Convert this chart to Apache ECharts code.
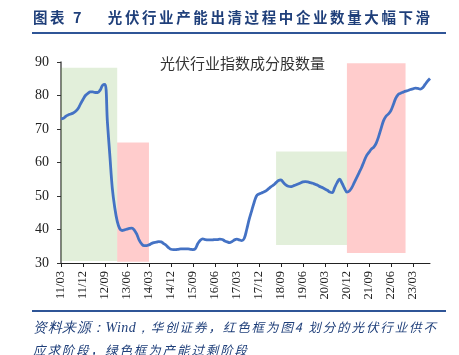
<!DOCTYPE html>
<html>
<head>
<meta charset="utf-8">
<script src="https://cdn.jsdelivr.net/npm/echarts@6/dist/echarts.min.js"></script>
<style>
html,body{margin:0;padding:0;background:#fff;}
#wrap{position:relative;width:459px;height:355px;overflow:hidden;}
#chart{position:absolute;left:0;top:0;width:459px;height:355px;}
.hdr{position:absolute;left:33px;top:6px;font-family:"Noto Sans CJK SC";font-weight:bold;font-size:14.5px;color:#1F3F7A;letter-spacing:2.6px;white-space:nowrap;}
.hline{position:absolute;left:32px;width:414px;height:2px;background:#2F5597;}
.ftr{position:absolute;left:33px;font-family:"Noto Sans CJK SC";font-style:italic;font-size:12.5px;color:#1F3F7A;letter-spacing:1.9px;white-space:nowrap;}
</style>
</head>
<body>
<div id="wrap">
<div id="chart"></div>
<div class="hdr">图表 7&nbsp;&nbsp;&nbsp;&nbsp;光伏行业产能出清过程中企业数量大幅下滑</div>
<div class="hline" style="top:32px"></div>
<div class="hline" style="top:310px"></div>
<div class="ftr" style="top:317px"><span style="font-family:'Liberation Serif';font-size:14px;letter-spacing:0.5px">资料来源：Wind，</span>华创证券，红色框为图4 划分的光伏行业供不</div>
<div class="ftr" style="top:340px">应求阶段，绿色框为产能过剩阶段</div>
</div>
<script>
// monthly categories 2011/03 .. 2023/10
const categories = [];
for (let y = 2011; y <= 2023; y++) {
  for (let m = 1; m <= 12; m++) {
    if (y === 2011 && m < 3) continue;
    if (y === 2023 && m > 10) continue;
    categories.push(String(y % 100).padStart(2, '0') + '/' + String(m).padStart(2, '0'));
  }
}
const stockCount = [
  73.0, 73.2, 73.8, 74.2, 74.5, 74.8, 75.3, 76.1, 77.5, 78.8,
  80.0, 80.6, 81.1, 81.1, 80.9, 80.9, 81.6, 83.0, 83.3, 72.0, 62.0, 52.3,
  46.5, 42.5, 40.3, 39.7, 39.9, 40.1, 40.3, 40.4, 39.8, 38.6, 36.8, 35.7,
  35.2, 35.2, 35.4, 35.8, 36.1, 36.2, 36.4, 36.3, 35.8, 35.3, 34.6, 34.1,
  34.0, 34.0, 34.1, 34.2, 34.2, 34.2, 34.2, 34.1, 34.0, 34.3, 35.8, 36.8,
  37.2, 37.0, 36.9, 36.9, 36.9, 37.0, 37.0, 37.1, 37.0, 36.6, 36.3, 36.1,
  36.4, 36.9, 37.1, 36.9, 36.7, 37.4, 40.0, 43.0, 45.5, 48.0, 50.0, 50.6,
  50.9, 51.2, 51.6, 52.2, 52.8, 53.3, 54.0, 54.6, 54.8, 54.0, 53.3, 52.9,
  52.8, 53.0, 53.3, 53.6, 53.9, 54.2, 54.3, 54.2, 54.0, 53.8, 53.5, 53.2,
  52.8, 52.5, 52.1, 51.7, 51.2, 51.0, 52.5, 54.0, 55.0, 53.8, 52.3, 51.2,
  51.5, 52.5, 54.0, 55.5, 57.0, 58.5, 60.3, 62.0, 63.0, 64.0, 64.6, 65.8,
  67.8, 70.2, 72.5, 73.8, 74.5, 75.5, 77.3, 79.2, 80.3, 80.7, 81.0, 81.3,
  81.5, 81.8, 82.0, 82.2, 82.1, 81.9, 82.3, 83.3, 84.3, 85.1
];
// phase boxes: [startCategory, endCategory, bottom, top]
const oversupplyBoxes = [['11/03', '13/02', 30.6, 88.3], ['18/07', '20/12', 35.4, 63.3]];
const shortageBoxes = [['13/02', '14/03', 30.4, 66.0], ['20/12', '22/12', 33.0, 89.6]];
const yTicks = [30, 40, 50, 60, 70, 80, 90];

const chart = echarts.init(document.getElementById('chart'));
const toArea = (b) => [{ xAxis: b[0], yAxis: b[2] }, { xAxis: b[1], yAxis: b[3] }];
chart.setOption({
  animation: false,
  title: {
    text: '光伏行业指数成分股数量',
    left: 155, top: 51,
    textStyle: { fontFamily: 'Noto Sans CJK SC', fontWeight: 'normal', fontSize: 15, color: '#333' }
  },
  grid: { left: 61, right: 29, top: 62, bottom: 92 },
  xAxis: {
    type: 'category', data: categories, boundaryGap: false,
    axisLine: { lineStyle: { color: '#222', width: 1 } },
    axisTick: { interval: 8, length: 4, lineStyle: { color: '#222' } },
    axisLabel: { interval: 8, rotate: 90, margin: 8, fontFamily: 'Liberation Serif', fontSize: 12.5, color: '#222' },
    splitLine: { show: false }
  },
  yAxis: {
    type: 'value', min: yTicks[0], max: yTicks[yTicks.length - 1], interval: 10,
    axisLine: { show: true, lineStyle: { color: '#555', width: 1.5 } },
    axisTick: { show: true, length: 4, lineStyle: { color: '#333' } },
    axisLabel: { margin: 12, fontFamily: 'Liberation Serif', fontSize: 14, color: '#222' },
    splitLine: { show: false }
  },
  series: [
    {
      type: 'line', data: stockCount, smooth: 0.4, symbol: 'none', z: 2,
      lineStyle: { color: '#4472C4', width: 2.8 }
    },
    {
      type: 'line', data: [], z: 3, symbol: 'none',
      markArea: { silent: true, itemStyle: { color: 'rgba(112,173,71,0.2)' }, data: oversupplyBoxes.map(toArea) }
    },
    {
      type: 'line', data: [], z: 4, symbol: 'none',
      markArea: { silent: true, itemStyle: { color: 'rgba(255,0,0,0.2)' }, data: shortageBoxes.map(toArea) }
    }
  ]
});
</script>
</body>
</html>
